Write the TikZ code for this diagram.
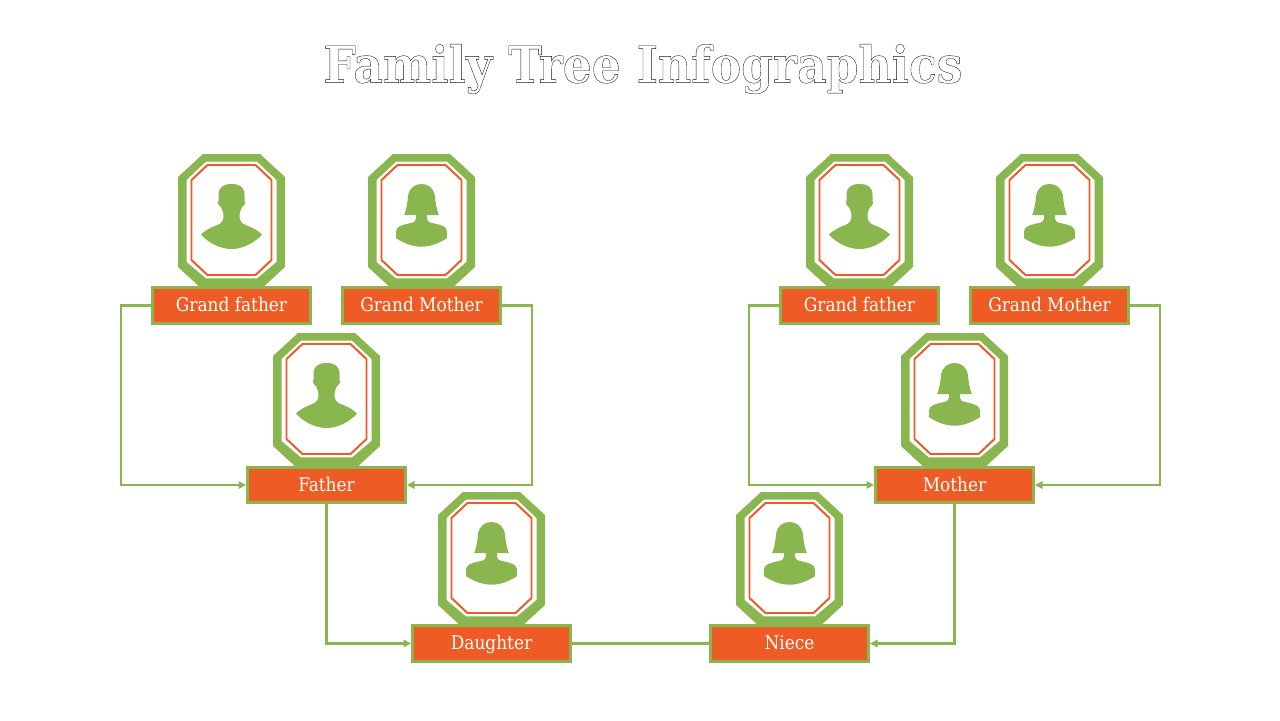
\documentclass[tikz,border=0pt]{standalone}
\usepackage{fontspec}
\setmainfont{DejaVu Serif Condensed}[FakeStretch=1.0]
\newfontfamily\titlefont{DejaVu Serif}[BoldFont={DejaVu Serif Bold},FakeStretch=0.9]
\usetikzlibrary{arrows.meta}
\definecolor{leaf}{HTML}{8AB650}
\definecolor{rust}{HTML}{EF5B24}
\tikzset{
  x=0.5625pt,y=-0.5625pt,
  namebox/.style={draw=leaf,fill=rust,line width=1.7pt,minimum width=88.9pt,minimum height=20.2pt,inner sep=0pt,text=white,text height=9.6pt,text depth=2.4pt,font=\fontsize{10.6}{13}\selectfont},
  link/.style={draw=leaf,line width=1.4pt,line join=miter},
  linkarrow/.style={link,-{Triangle[length=4.2pt,width=4.2pt]}},
  pics/frameshape/.style={code={
    \fill[leaf,even odd rule]
      (-28.5,0)--(28.5,0)--(53.5,23)--(53.5,113)--(28.5,136)--(-28.5,136)--(-53.5,113)--(-53.5,23)--cycle
      (-25.7,7.7)--(25.7,7.7)--(45,26)--(45,108)--(25.7,124.3)--(-25.7,124.3)--(-45,108)--(-45,26)--cycle;
    \draw[rust,line width=1.1pt]
      (-24,11)--(24,11)--(40,26)--(40,106)--(24,121)--(-24,121)--(-40,106)--(-40,26)--cycle;
  }},
  pics/maleshape/.style={code={
    \fill[leaf]
      (0,30) .. controls (-8,30) and (-13,33) .. (-13,41) -- (-13,46)
      .. controls (-14,48) and (-14,51) .. (-10.5,53)
      .. controls (-9,56) and (-8,59) .. (-8,61)
      .. controls (-8,66) and (-9,69) .. (-14,71)
      .. controls (-20,73) and (-26,76) .. (-30.5,80.5)
      .. controls (-22,90) and (-10,95) .. (0,95)
      .. controls (10,95) and (22,90) .. (30.5,80.5)
      .. controls (26,76) and (20,73) .. (14,71)
      .. controls (9,69) and (8,66) .. (8,61)
      .. controls (8,59) and (9,56) .. (10.5,53)
      .. controls (14,51) and (14,48) .. (13,46)
      -- (13,41) .. controls (13,33) and (8,30) .. (0,30) -- cycle;
  }},
  pics/femaleshape/.style={code={
    \fill[leaf]
      (0,30) .. controls (-7,30) and (-12,34) .. (-13.5,42)
      .. controls (-14,49) and (-15,55) .. (-17.3,61)
      -- (-5.5,61) -- (-5.5,65)
      .. controls (-5.5,68) and (-8,68.5) .. (-13,69.5)
      .. controls (-20,71) and (-25.3,73) .. (-25.3,77)
      -- (-25.3,84.3)
      .. controls (-18,89) and (-9,92.7) .. (0,92.7)
      .. controls (9,92.7) and (18,89) .. (25.3,84.3)
      -- (25.3,77)
      .. controls (25.3,73) and (20,71) .. (13,69.5)
      .. controls (8,68.5) and (5.5,68) .. (5.5,65)
      -- (5.5,61) -- (17.3,61)
      .. controls (15,55) and (14,49) .. (13.5,42)
      .. controls (12,34) and (7,30) .. (0,30) -- cycle;
  }},
}
\begin{document}
\begin{tikzpicture}
\useasboundingbox (0,0) rectangle (1280,720);
\fill[white] (0,0) rectangle (1280,720);
% frames
\pic at (231.5,154) {frameshape}; \pic at (231.5,154) {maleshape};
\pic at (421.5,154) {frameshape}; \pic at (421.5,154) {femaleshape};
\pic at (859.5,154) {frameshape}; \pic at (859.5,154) {maleshape};
\pic at (1049.5,154) {frameshape}; \pic at (1049.5,154) {femaleshape};
\pic at (326.5,333) {frameshape}; \pic at (326.5,333) {maleshape};
\pic at (954.5,333) {frameshape}; \pic at (954.5,333) {femaleshape};
\pic at (491.5,492) {frameshape}; \pic at (491.5,492) {femaleshape};
\pic at (789.5,492) {frameshape}; \pic at (789.5,492) {femaleshape};
% labels
\node[namebox] (gfl) at (231.5,305.5) {Grand father};
\node[namebox] (gml) at (421.5,305.5) {Grand Mother};
\node[namebox] (gfr) at (859.5,305.5) {Grand father};
\node[namebox] (gmr) at (1049.5,305.5) {Grand Mother};
\node[namebox] (father) at (326.5,485) {Father};
\node[namebox] (mother) at (954.5,485) {Mother};
\node[namebox] (daughter) at (491.5,643.5) {Daughter};
\node[namebox] (niece) at (789.5,643.5) {Niece};
% connectors
\coordinate (c1) at (121,305.5);
\coordinate (c2) at (532,305.5);
\coordinate (c3) at (749,305.5);
\coordinate (c4) at (1160,305.5);
\draw[linkarrow] (gfl.west) -- (c1) |- (father.west);
\draw[linkarrow] (gml.east) -- (c2) |- (father.east);
\draw[linkarrow] (gfr.west) -- (c3) |- (mother.west);
\draw[linkarrow] (gmr.east) -- (c4) |- (mother.east);
\draw[linkarrow] (father.south) |- (daughter.west);
\draw[linkarrow] (mother.south) |- (niece.east);
\draw[link] (daughter.east) -- (niece.west);
% title
\node[inner sep=0pt] (title) at (643,69) {\special{pdf:code q 1 Tr 0.2 w 0.1 0.1 0.1 RG}\titlefont\bfseries\fontsize{28.5}{34}\selectfont Family Tree Infographics\special{pdf:code Q}};
\end{tikzpicture}
\end{document}
